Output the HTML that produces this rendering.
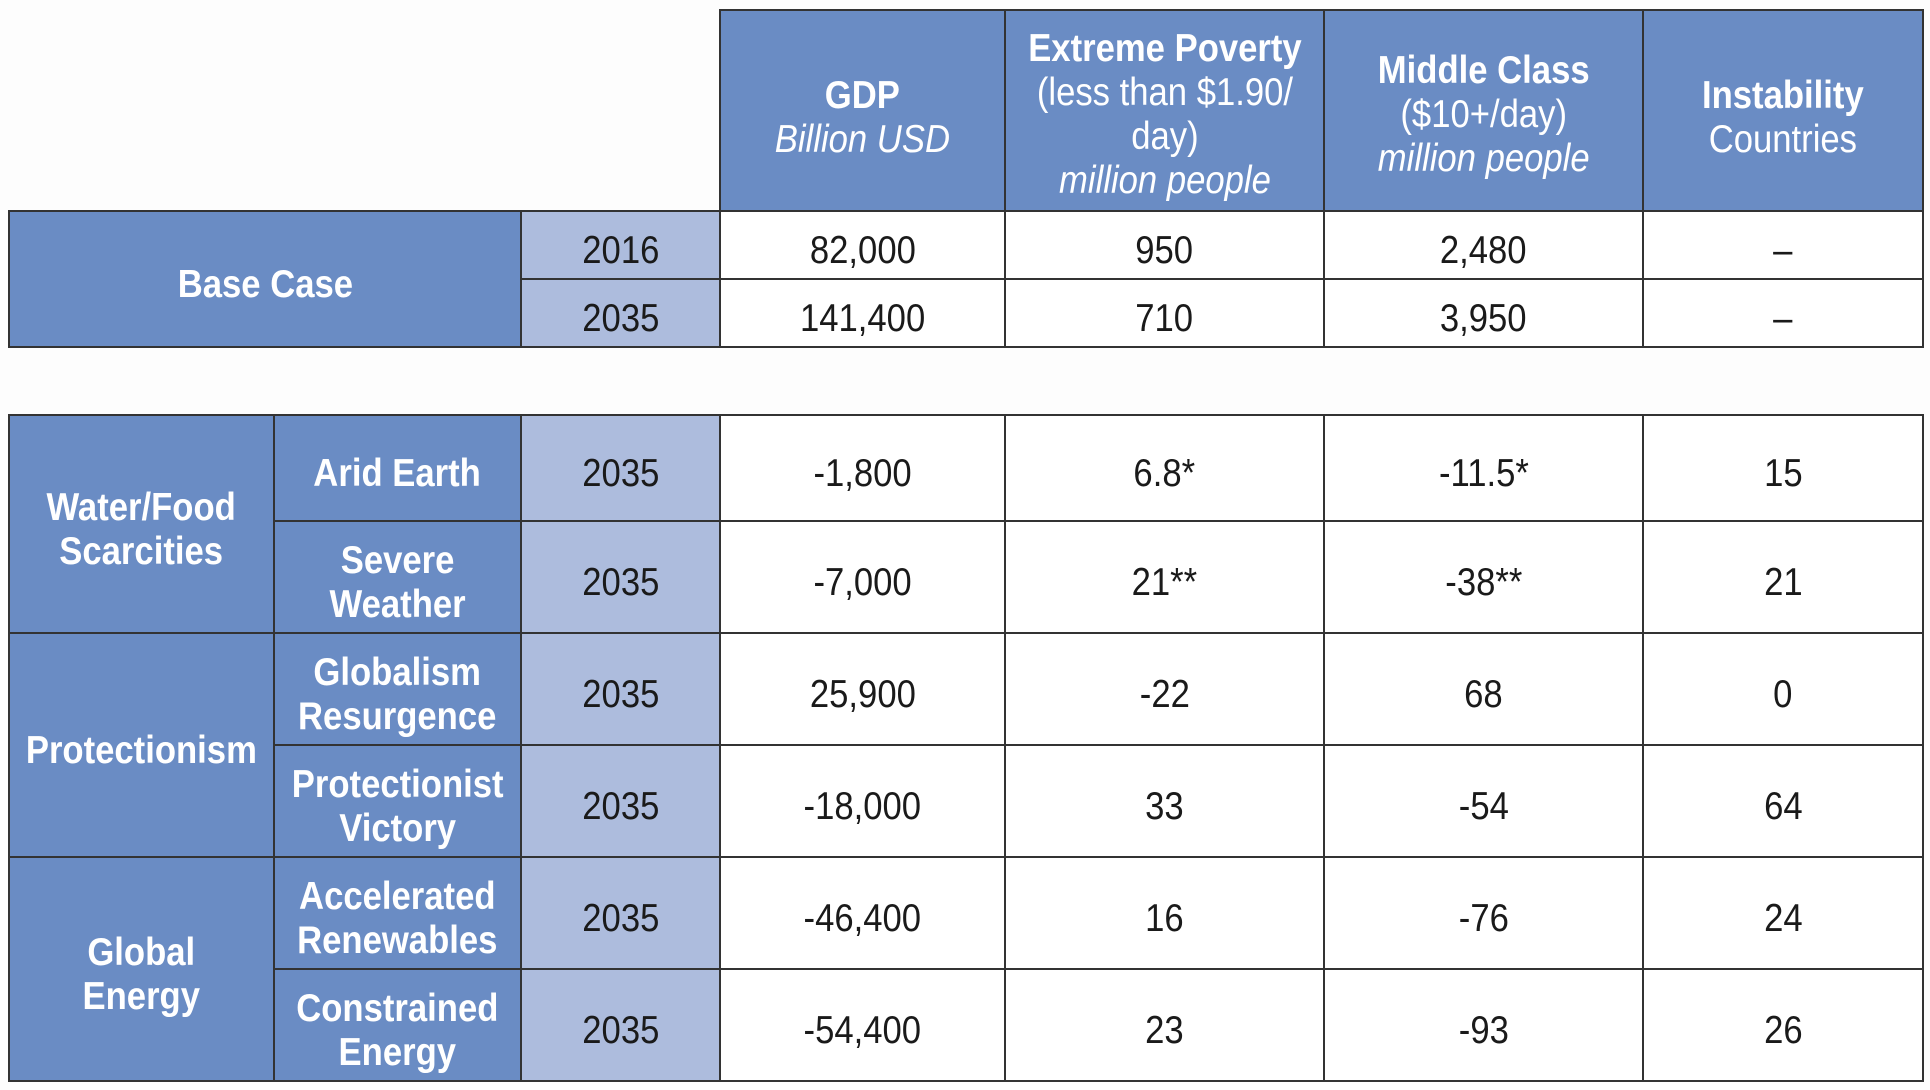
<!DOCTYPE html>
<html><head><meta charset="utf-8"><style>
html,body{margin:0;padding:0;background:#fdfdfd;}
body{width:1930px;height:1090px;position:relative;overflow:hidden;font-family:"Liberation Sans",sans-serif;}
.c{position:absolute;box-sizing:border-box;border:2px solid #333;display:flex;align-items:center;justify-content:center;text-align:center;font-size:38.5px;line-height:44px;color:#1a1a1a;background:#fff;padding-top:12px;}
.c>span{display:inline-block;transform:scaleX(0.9);white-space:nowrap;}
.h{background:#6a8cc4;color:#fff;font-weight:bold;}
.y{background:#adbcdd;}
.n{font-weight:normal;}
i{font-weight:normal;}
</style></head><body>
<!-- header -->
<div class="c h" style="left:719px;top:9px;width:287px;height:203px;padding-top:14px"><span>GDP<br><i>Billion USD</i></span></div>
<div class="c h" style="left:1004px;top:9px;width:321px;height:203px;padding-top:8px"><span>Extreme Poverty<br><span class="n">(less than $1.90/<br>day)</span><br><i>million people</i></span></div>
<div class="c h" style="left:1323px;top:9px;width:321px;height:203px;padding-top:8px"><span>Middle Class<br><span class="n">($10+/day)</span><br><i>million people</i></span></div>
<div class="c h" style="left:1642px;top:9px;width:282px;height:203px;padding-top:14px"><span>Instability<br><span class="n">Countries</span></span></div>
<!-- base -->
<div class="c h" style="left:8px;top:210px;width:514px;height:138px"><span>Base Case</span></div>
<div class="c y" style="left:520px;top:210px;width:201px;height:70px"><span>2016</span></div>
<div class="c y" style="left:520px;top:278px;width:201px;height:70px"><span>2035</span></div>
<div class="c" style="left:719px;top:210px;width:287px;height:70px"><span>82,000</span></div>
<div class="c" style="left:1004px;top:210px;width:321px;height:70px"><span>950</span></div>
<div class="c" style="left:1323px;top:210px;width:321px;height:70px"><span>2,480</span></div>
<div class="c" style="left:1642px;top:210px;width:282px;height:70px"><span>–</span></div>
<div class="c" style="left:719px;top:278px;width:287px;height:70px"><span>141,400</span></div>
<div class="c" style="left:1004px;top:278px;width:321px;height:70px"><span>710</span></div>
<div class="c" style="left:1323px;top:278px;width:321px;height:70px"><span>3,950</span></div>
<div class="c" style="left:1642px;top:278px;width:282px;height:70px"><span>–</span></div>
<!-- groups -->
<div class="c h" style="left:8px;top:414px;width:267px;height:220px"><span>Water/Food<br>Scarcities</span></div>
<div class="c h" style="left:8px;top:632px;width:267px;height:226px"><span>Protectionism</span></div>
<div class="c h" style="left:8px;top:856px;width:267px;height:226px"><span>Global<br>Energy</span></div>
<!-- rows -->
<div class="c h" style="left:273px;top:414px;width:249px;height:108px"><span>Arid Earth</span></div>
<div class="c h" style="left:273px;top:520px;width:249px;height:114px"><span>Severe<br>Weather</span></div>
<div class="c h" style="left:273px;top:632px;width:249px;height:114px"><span>Globalism<br>Resurgence</span></div>
<div class="c h" style="left:273px;top:744px;width:249px;height:114px"><span>Protectionist<br>Victory</span></div>
<div class="c h" style="left:273px;top:856px;width:249px;height:114px"><span>Accelerated<br>Renewables</span></div>
<div class="c h" style="left:273px;top:968px;width:249px;height:114px"><span>Constrained<br>Energy</span></div>

<div class="c y" style="left:520px;top:414px;width:201px;height:108px"><span>2035</span></div>
<div class="c y" style="left:520px;top:520px;width:201px;height:114px"><span>2035</span></div>
<div class="c y" style="left:520px;top:632px;width:201px;height:114px"><span>2035</span></div>
<div class="c y" style="left:520px;top:744px;width:201px;height:114px"><span>2035</span></div>
<div class="c y" style="left:520px;top:856px;width:201px;height:114px"><span>2035</span></div>
<div class="c y" style="left:520px;top:968px;width:201px;height:114px"><span>2035</span></div>

<div class="c" style="left:719px;top:414px;width:287px;height:108px"><span>-1,800</span></div>
<div class="c" style="left:1004px;top:414px;width:321px;height:108px"><span>6.8*</span></div>
<div class="c" style="left:1323px;top:414px;width:321px;height:108px"><span>-11.5*</span></div>
<div class="c" style="left:1642px;top:414px;width:282px;height:108px"><span>15</span></div>

<div class="c" style="left:719px;top:520px;width:287px;height:114px"><span>-7,000</span></div>
<div class="c" style="left:1004px;top:520px;width:321px;height:114px"><span>21**</span></div>
<div class="c" style="left:1323px;top:520px;width:321px;height:114px"><span>-38**</span></div>
<div class="c" style="left:1642px;top:520px;width:282px;height:114px"><span>21</span></div>

<div class="c" style="left:719px;top:632px;width:287px;height:114px"><span>25,900</span></div>
<div class="c" style="left:1004px;top:632px;width:321px;height:114px"><span>-22</span></div>
<div class="c" style="left:1323px;top:632px;width:321px;height:114px"><span>68</span></div>
<div class="c" style="left:1642px;top:632px;width:282px;height:114px"><span>0</span></div>

<div class="c" style="left:719px;top:744px;width:287px;height:114px"><span>-18,000</span></div>
<div class="c" style="left:1004px;top:744px;width:321px;height:114px"><span>33</span></div>
<div class="c" style="left:1323px;top:744px;width:321px;height:114px"><span>-54</span></div>
<div class="c" style="left:1642px;top:744px;width:282px;height:114px"><span>64</span></div>

<div class="c" style="left:719px;top:856px;width:287px;height:114px"><span>-46,400</span></div>
<div class="c" style="left:1004px;top:856px;width:321px;height:114px"><span>16</span></div>
<div class="c" style="left:1323px;top:856px;width:321px;height:114px"><span>-76</span></div>
<div class="c" style="left:1642px;top:856px;width:282px;height:114px"><span>24</span></div>

<div class="c" style="left:719px;top:968px;width:287px;height:114px"><span>-54,400</span></div>
<div class="c" style="left:1004px;top:968px;width:321px;height:114px"><span>23</span></div>
<div class="c" style="left:1323px;top:968px;width:321px;height:114px"><span>-93</span></div>
<div class="c" style="left:1642px;top:968px;width:282px;height:114px"><span>26</span></div>
</body></html>
